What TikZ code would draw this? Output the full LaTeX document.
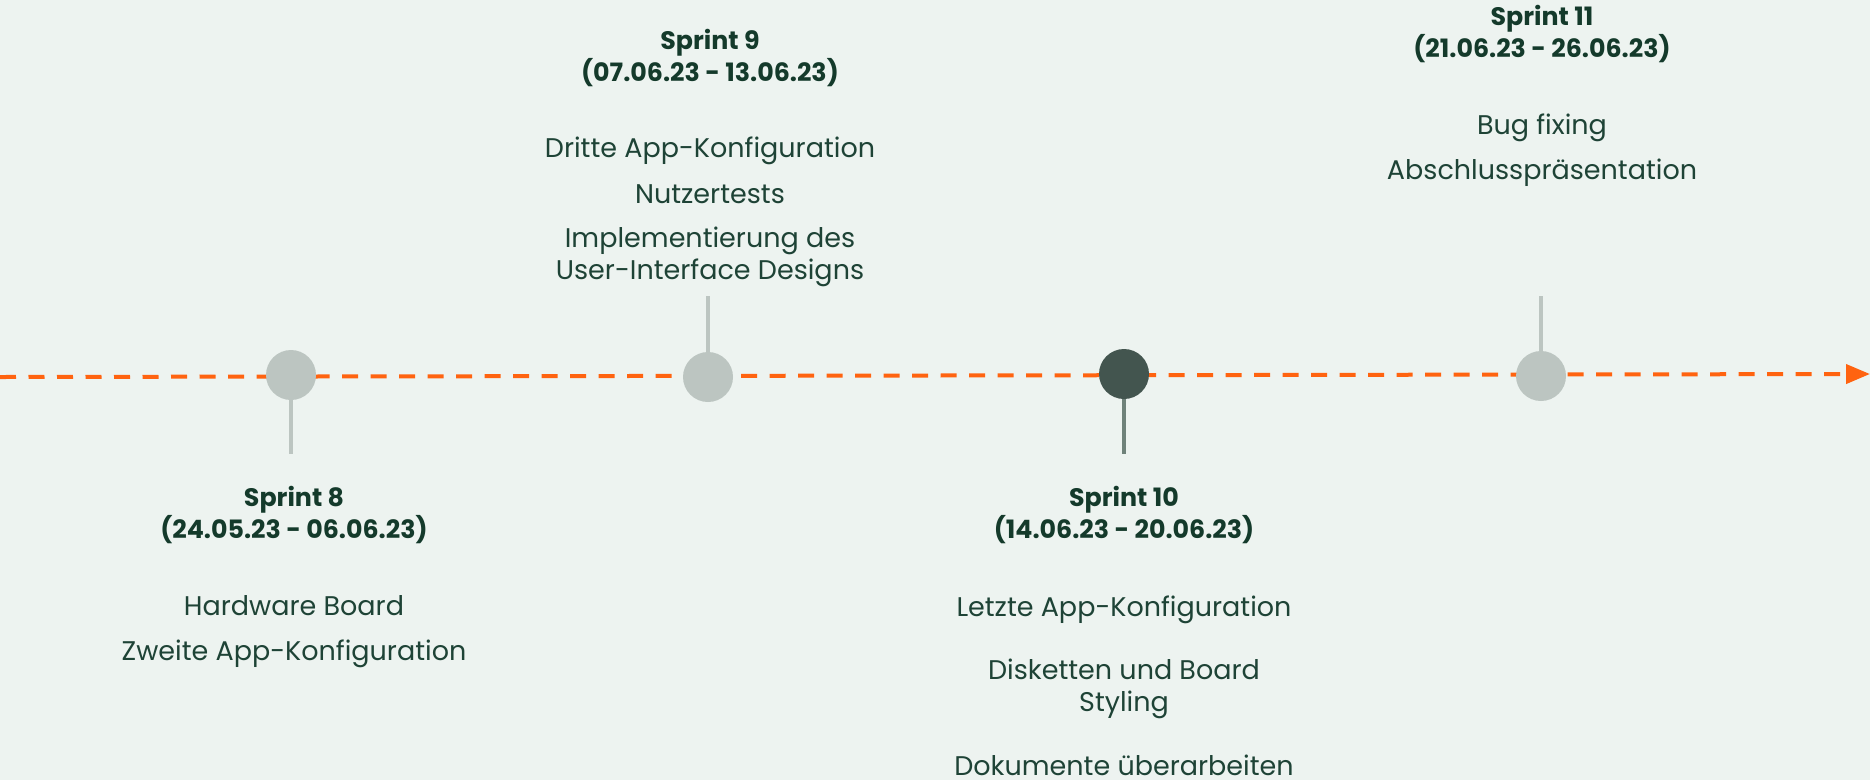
\documentclass[tikz,border=0pt]{standalone}
\usepackage{fontspec}
\setmainfont{Poppins}
\usetikzlibrary{arrows.meta}
\definecolor{bgc}{HTML}{EDF3F0}
\definecolor{lightdot}{HTML}{BCC5C1}
\definecolor{darkdot}{HTML}{43554F}
\definecolor{darkstem}{HTML}{6F827A}
\definecolor{orangeline}{HTML}{FF6310}
\definecolor{headc}{HTML}{143A2B}
\definecolor{itemc}{HTML}{1E4336}
\newcommand{\headfont}{\fontsize{25.3}{32}\selectfont\bfseries}
\newcommand{\itemfont}{\fontsize{27}{31.5}\selectfont}
\tikzset{
  dot/.style={circle, minimum size=50pt, inner sep=0pt, fill=lightdot, draw=none},
  darkdotstyle/.style={dot, fill=darkdot},
  stem/.style={line width=3.5pt, draw=lightdot},
  darkstemstyle/.style={line width=3.5pt, draw=darkstem},
  head/.style={font=\headfont, text=headc, align=center, anchor=base, inner sep=0pt},
  item/.style={font=\itemfont, text=itemc, align=center, anchor=base, inner sep=0pt},
  timeline/.style={draw=orangeline, line width=4pt, dash pattern=on 16pt off 12.5pt,
    -{Triangle[length=24pt,width=19pt]}}
}
\begin{document}
\begin{tikzpicture}[x=1pt,y=-1pt]
\fill[bgc] (0,0) rectangle (1870,780);
\useasboundingbox (0,0) rectangle (1870,780);
% timeline
\coordinate (tl0) at (0,377);
\coordinate (tl1) at (1870,374);
\draw[timeline] (tl0) -- (tl1);
% dots
\node[dot] (c8) at (291,375) {};
\node[dot] (c9) at (708,377) {};
\node[darkdotstyle] (c10) at (1124,374) {};
\node[dot] (c11) at (1541,376) {};
% stems
\coordinate (s8) at (291,454);
\coordinate (s9) at (708,296);
\coordinate (s10) at (1124,454);
\coordinate (s11) at (1541,296);
\draw[stem] (c8.south) -- (s8);
\draw[stem] (c9.north) -- (s9);
\draw[darkstemstyle] (c10.south) -- (s10);
\draw[stem] (c11.north) -- (s11);
% Sprint 8 (base anchor = last line)
\node[head] (h8) at (294,538) {Sprint 8\\(24.05.23 - 06.06.23)};
\node[item] (i8a) at (294,615) {Hardware Board};
\node[item] (i8b) at (294,660) {Zweite App-Konfiguration};
% Sprint 9
\node[head] (h9) at (710,81) {Sprint 9\\(07.06.23 - 13.06.23)};
\node[item] (i9a) at (710,157) {Dritte App-Konfiguration};
\node[item] (i9b) at (710,203) {Nutzertests};
\node[item] (i9c) at (710,279) {Implementierung des\\User-Interface Designs};
% Sprint 10
\node[head] (h10) at (1124,538) {Sprint 10\\(14.06.23 - 20.06.23)};
\node[item] (i10a) at (1124,616) {Letzte App-Konfiguration};
\node[item] (i10b) at (1124,711) {Disketten und Board\\Styling};
\node[item] (i10c) at (1124,775) {Dokumente überarbeiten};
% Sprint 11
\node[head] (h11) at (1542,57) {Sprint 11\\(21.06.23 - 26.06.23)};
\node[item] (i11a) at (1542,134) {Bug fixing};
\node[item] (i11b) at (1542,179) {Abschlusspräsentation};
\end{tikzpicture}
\end{document}
